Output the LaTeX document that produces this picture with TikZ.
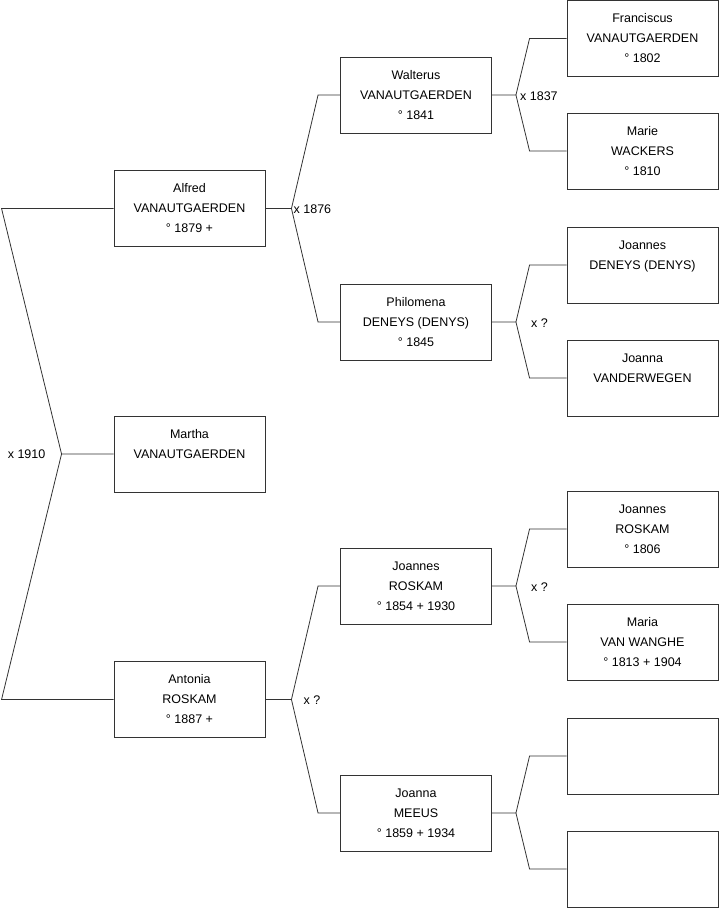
\documentclass[tikz,border=0pt]{standalone}
\usepackage{fontspec}
\setmainfont{Liberation Sans}
\usepackage{tikz}
\usetikzlibrary{positioning}

\begin{document}
\begin{tikzpicture}[
  x=1pt, y=-1pt,
  person/.style={draw=black!80, line width=0.9pt, minimum width=151pt, minimum height=76pt, inner sep=0pt, fill=white, align=center, font=\fontsize{12.5}{20}\selectfont},
  lbl/.style={inner sep=0pt, font=\fontsize{12.5}{15}\selectfont},
  link/.style={draw=black!80, line width=0.8pt}
]
  \useasboundingbox (0,0) rectangle (719,908);

  % Generation 1
  \node[person] (alfred) at (189.5,208.5) {Alfred\\VANAUTGAERDEN\\° 1879 +};
  \node[person] (martha) at (189.5,454) {Martha\\VANAUTGAERDEN\\\mbox{}};
  \node[person] (antonia) at (189.5,699.5) {Antonia\\ROSKAM\\° 1887 +};

  % Generation 2
  \node[person] (walterus) at (416,95) {Walterus\\VANAUTGAERDEN\\° 1841};
  \node[person] (philomena) at (416,322) {Philomena\\DENEYS (DENYS)\\° 1845};
  \node[person] (joannesr) at (416,586) {Joannes\\ROSKAM\\° 1854 + 1930};
  \node[person] (joanna) at (416,813) {Joanna\\MEEUS\\° 1859 + 1934};

  % Generation 3
  \node[person] (franciscus) at (642.5,38.5) {Franciscus\\VANAUTGAERDEN\\° 1802};
  \node[person] (marie) at (642.5,151) {Marie\\WACKERS\\° 1810};
  \node[person] (joannesd) at (642.5,265) {Joannes\\DENEYS (DENYS)\\\mbox{}};
  \node[person] (joannav) at (642.5,378) {Joanna\\VANDERWEGEN\\\mbox{}};
  \node[person] (joannesr2) at (642.5,529) {Joannes\\ROSKAM\\° 1806};
  \node[person] (maria) at (642.5,642) {Maria\\VAN WANGHE\\° 1813 + 1904};
  \node[person] (unk1) at (642.5,756) {};
  \node[person] (unk2) at (642.5,869) {};

  % Martha's parents
  \coordinate (wed) at ([xshift=-52pt]martha.west);
  \draw[link] (alfred.west) -- ++(-112,0) -- (wed) -- (martha.west);
  \draw[link] (antonia.west) -- ++(-112,0) -- (wed);
  \node[lbl, anchor=east] at ([xshift=-16pt]wed) {x 1910};

  % Forks to the parents
  \foreach \c/\f/\m/\h/\k in {
    alfred/walterus/philomena/26/22,
    antonia/joannesr/joanna/26/22,
    walterus/franciscus/marie/24/37,
    philomena/joannesd/joannav/24/37,
    joannesr/joannesr2/maria/24/37,
    joanna/unk1/unk2/24/37} {
    \draw[link] (\c.east) -- ++(\h,0) coordinate (v\c) -- ([xshift=-\k pt]\f.west) -- (\f.west);
    \draw[link] (v\c) -- ([xshift=-\k pt]\m.west) -- (\m.west);
  }

  % Marriage labels
  \foreach \c/\dx/\t in {
    alfred/2/x 1876,
    antonia/12/x ?,
    walterus/4/x 1837,
    philomena/15/x ?,
    joannesr/15/x ?} {
    \node[lbl, anchor=west] at ([xshift=\dx pt, yshift=-1pt]v\c) {\t};
  }
\end{tikzpicture}
\end{document}
